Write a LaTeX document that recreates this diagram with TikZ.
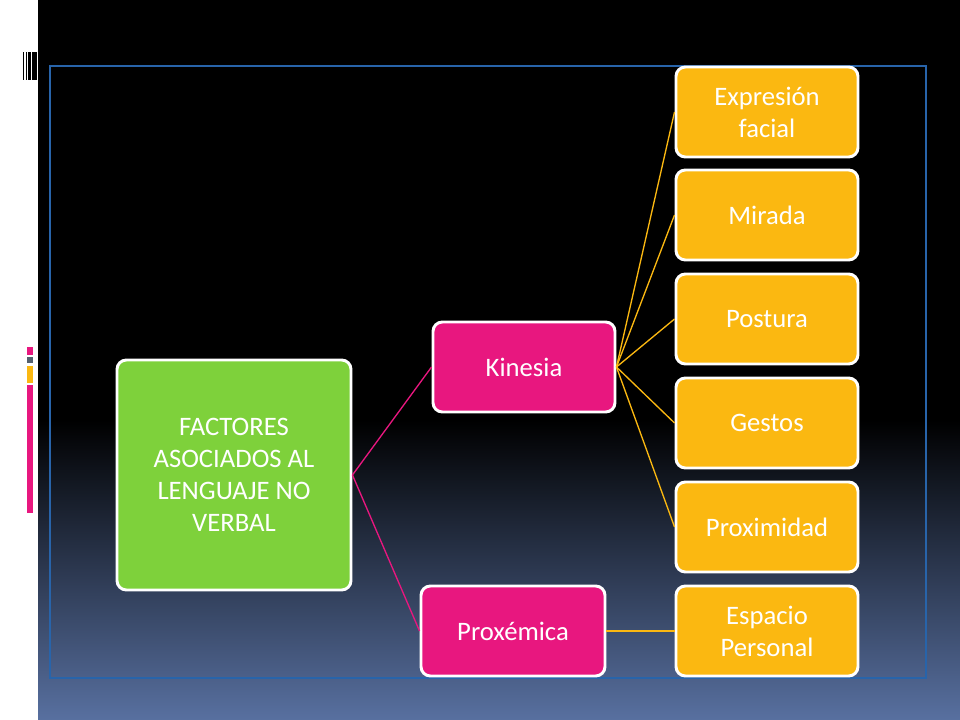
\documentclass[tikz,border=0pt]{standalone}
\usepackage{fontspec}
\setmainfont{Carlito}
\definecolor{bgbot}{RGB}{88,112,160}
\definecolor{cgreen}{RGB}{126,209,59}
\definecolor{cpink}{RGB}{232,23,127}
\definecolor{corange}{RGB}{251,184,17}
\definecolor{cgray}{RGB}{84,96,110}
\definecolor{cframe}{RGB}{40,100,170}
\begin{document}
\begin{tikzpicture}[x=0.75pt,y=-0.75pt,
  box/.style={draw=white,line width=2.2pt,rounded corners=7pt,text=white,align=center,inner sep=0pt,font=\fontsize{20}{24}\selectfont},
  gbox/.style={box,fill=cgreen},
  pbox/.style={box,fill=cpink},
  obox/.style={box,fill=corange},
  pline/.style={draw=cpink,line width=1pt},
  oline/.style={draw=corange,line width=1pt}]
\useasboundingbox (0,0) rectangle (960,720);
\fill[white] (0,0) rectangle (960,720);
\fill[black] (38,0) rectangle (960,420);
\shade[top color=black,bottom color=bgbot] (38,420) rectangle (960,720);
\draw[cframe,line width=0.8pt] (50,66) rectangle (926,678);
% barcode
\foreach \a/\b in {23/24,26/27,28/31,32/37}{\fill[black] (\a,52) rectangle (\b,80);}
\fill[cpink] (27,347) rectangle (33,355);
\fill[cgray] (27,357) rectangle (33,363);
\fill[corange] (27,366) rectangle (33,383);
\fill[cpink] (27,385) rectangle (33,513);
% nodes
\node[gbox,minimum width=175.5pt,minimum height=172.5pt] (root) at (234,475) {FACTORES\\ASOCIADOS AL\\LENGUAJE NO\\VERBAL};
\node[pbox,minimum width=136.5pt,minimum height=67.5pt] (kin) at (524,367) {Kinesia};
\node[pbox,minimum width=138pt,minimum height=67.5pt] (prox) at (513,631) {Proxémica};
\node[obox,minimum width=136.5pt,minimum height=67.5pt] (e1) at (767,112) {Expresión\\facial};
\node[obox,minimum width=136.5pt,minimum height=67.5pt] (e2) at (767,215) {Mirada};
\node[obox,minimum width=136.5pt,minimum height=67.5pt] (e3) at (767,319) {Postura};
\node[obox,minimum width=136.5pt,minimum height=67.5pt] (e4) at (767,423) {Gestos};
\node[obox,minimum width=136.5pt,minimum height=67.5pt] (e5) at (767,527) {Proximidad};
\node[obox,minimum width=136.5pt,minimum height=67.5pt] (e6) at (767,631) {Espacio\\Personal};
% connectors
\draw[pline] (root.east) -- (kin.west);
\draw[pline] (root.east) -- (prox.west);
\foreach \n in {e1,e2,e3,e4,e5}{\draw[oline] (kin.east) -- (\n.west);}
\draw[oline] (prox.east) -- (e6.west);
\end{tikzpicture}
\end{document}
